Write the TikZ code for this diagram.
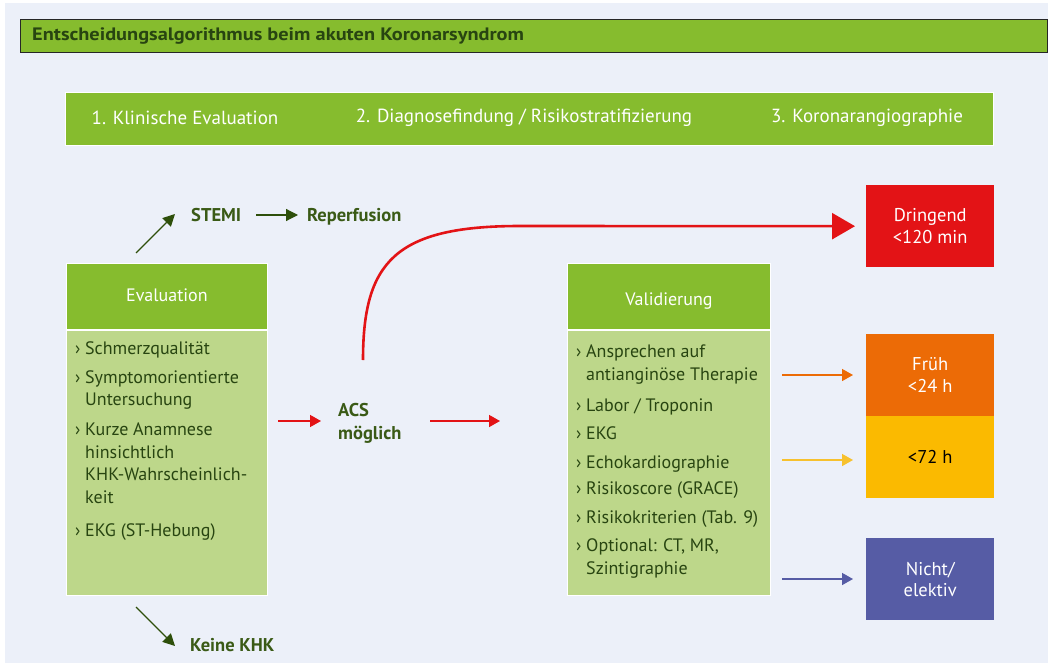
\documentclass[tikz,border=0pt]{standalone}
\usepackage{fontspec}
\setmainfont{PT Sans}
\newfontfamily\titlefont[FakeStretch=1.13]{PT Sans Bold}
\usetikzlibrary{arrows.meta}
\definecolor{bgc}{HTML}{ECF0F9}
\definecolor{gdark}{HTML}{86BC2E}
\definecolor{glight}{HTML}{BDD78A}
\definecolor{txtg}{HTML}{284511}
\definecolor{lblg}{HTML}{3A5A16}
\definecolor{arrg}{HTML}{2E4F0B}
\definecolor{cred}{HTML}{E31316}
\definecolor{corange}{HTML}{EC6B06}
\definecolor{cyellow}{HTML}{FBBA00}
\definecolor{cyarrow}{HTML}{F7C12E}
\definecolor{cblue}{HTML}{565CA5}
\newcommand\bl{\makebox[10pt][l]{›}}
\newcommand\ind{\hspace*{10pt}}
\tikzset{
  box/.style={rectangle, inner sep=0pt, anchor=north west, draw=white, line width=0.8pt},
  hdrbox/.style={box, fill=gdark, text=white, font=\fontsize{18}{21}\selectfont},
  bodybox/.style={box, fill=glight},
  bodytext/.style={inner sep=0pt, anchor=base west, align=left, text=txtg, font=\fontsize{18}{22.5}\selectfont},
  prio/.style={rectangle, inner sep=0pt, anchor=north west, minimum width=128pt, minimum height=82pt, align=center, text=white, font=\fontsize{18.5}{23}\selectfont},
  lbl/.style={inner sep=0pt, anchor=base west, align=left, text=lblg, font=\bfseries\fontsize{18.5}{23}\selectfont},
  phase/.style={text=white, inner sep=0pt, font=\fontsize{19}{22}\selectfont},
  darr/.style={draw=arrg, line width=1.2pt, -{Triangle[length=12pt,width=12pt]}},
  sarr/.style={line width=1.5pt, -{Triangle[length=11pt,width=12pt]}},
}
\begin{document}
\begin{tikzpicture}[x=1pt,y=-1pt]
\useasboundingbox (0,0) rectangle (1048,663);
\fill[bgc] (5,3) rectangle (1048,663);
% title bar
\node[rectangle, anchor=north west, inner sep=0pt, fill=gdark, draw=black!85, line width=1.3pt, minimum width=1027pt, minimum height=33pt] (title) at (20,19) {};
\node[inner sep=0pt, anchor=west, text=txtg, font=\titlefont\fontsize{18}{21}\selectfont] (titletext) at (32,36) {Entscheidungsalgorithmus beim akuten Koronarsyndrom};
% phase band
\node[box, fill=gdark, minimum width=928pt, minimum height=53pt] (band) at (65,92) {};
\node[phase] (ph1) at (185,118) {1. Klinische Evaluation};
\node[phase] (ph2) at (524,118) {2. Diagnosefindung / Risikostratifizierung};
\node[phase] (ph3) at (867,118) {3. Koronarangiographie};
% evaluation
\node[hdrbox, minimum width=201pt, minimum height=66pt] (evalh) at (66,263) {\raisebox{-1pt}[13pt][4pt]{Evaluation}};
\node[bodybox, minimum width=201pt, minimum height=265pt] (evalb) at (66,330) {};
\node[bodytext] (evalt) at (75,536) {\bl Schmerzqualität\\[6.5pt]
\bl Symptomorientierte\\
\ind Untersuchung\\[7.5pt]
\bl Kurze Anamnese\\
\ind hinsichtlich\\
\ind KHK-Wahrscheinlich-\\
\ind keit\\[10.5pt]
\bl EKG (ST-Hebung)};
% validierung
\node[hdrbox, minimum width=203pt, minimum height=66pt] (valh) at (567,263) {\raisebox{-5pt}[13pt][4pt]{Validierung}};
\node[bodybox, minimum width=203pt, minimum height=265pt] (valb) at (567,330) {};
\node[bodytext] (valt) at (576,574) {\bl Ansprechen auf\\
\ind antianginöse Therapie\\[9pt]
\bl Labor / Troponin\\[5.5pt]
\bl EKG\\[6.5pt]
\bl Echokardiographie\\[3.5pt]
\bl Risikoscore (GRACE)\\[6.5pt]
\bl Risikokriterien (Tab. 9)\\[5.5pt]
\bl Optional: CT, MR,\\
\ind Szintigraphie};
% priority boxes
\node[prio, fill=cred] (dring) at (866,185) {Dringend\\[-1pt]<120 min};
\node[prio, fill=corange] (frueh) at (866,334) {Früh\\[-1pt]<24 h};
\node[prio, fill=cyellow, text=black] (h72) at (866,416) {<72 h};
\node[prio, fill=cblue] (nicht) at (866,538) {Nicht/\\[-2pt]elektiv};
% labels
\node[lbl] (stemi) at (191,221.5) {STEMI};
\node[lbl] (reperf) at (307,221.5) {Reperfusion};
\node[lbl] (keine) at (190,651.5) {Keine KHK};
\node[lbl] (acs) at (338,439) {ACS\\möglich};
% connectors
\coordinate (stemiS) at (136,253);
\coordinate (stemiE) at (175,214);
\draw[darr] (stemiS) -- (stemiE);
\coordinate (repS) at (256,215);
\coordinate (repE) at (298,215);
\draw[darr] (repS) -- (repE);
\coordinate (keinS) at (136,607);
\coordinate (keinE) at (175,646);
\draw[darr] (keinS) -- (keinE);
\coordinate (acsA) at (278,421);
\coordinate (acsB) at (321,421);
\draw[sarr, draw=cred] (acsA) -- (acsB);
\coordinate (acsC) at (430,421);
\coordinate (acsD) at (500,421);
\draw[sarr, draw=cred] (acsC) -- (acsD);
\coordinate (c0) at (363,360);
\draw[draw=cred, line width=2.6pt, -{Triangle[length=23pt,width=26pt]}, shorten >=11pt]
  (c0) .. controls (363,262) and (395,226) .. (520,226) -- (dring.west);
\coordinate (oS) at (782,375);
\coordinate (oE) at (853,375);
\draw[sarr, draw=corange] (oS) -- (oE);
\coordinate (yS) at (782,460);
\coordinate (yE) at (853,460);
\draw[sarr, draw=cyarrow] (yS) -- (yE);
\coordinate (bS) at (782,579);
\coordinate (bE) at (853,579);
\draw[sarr, draw=cblue] (bS) -- (bE);
\end{tikzpicture}
\end{document}
